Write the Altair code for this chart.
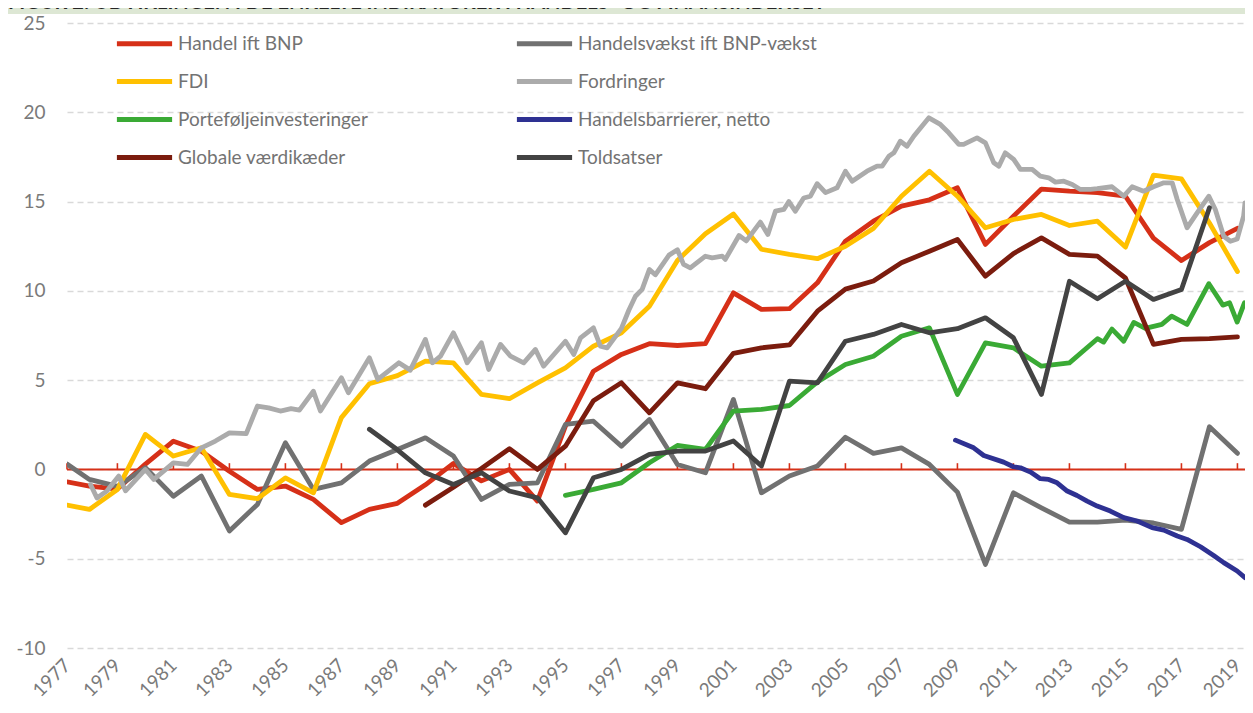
import altair as alt
import pandas as pd

# ---------------- data ----------------
series_names = ["Handel ift BNP", "Handelsvækst ift BNP-vækst", "FDI", "Fordringer",
                "Porteføljeinvesteringer", "Handelsbarrierer, netto", "Globale værdikæder", "Toldsatser"]
series_colors = ["#d63018", "#717171", "#ffc000", "#ababab",
                 "#3aaa35", "#2e3192", "#7b1c0e", "#434343"]

years_annual = list(range(1977, 2020))

handel_bnp = [-0.7, -0.93, -1.1, 0.3, 1.58, 1.02, -0.1, -1.12, -0.93, -1.68,
              -2.98, -2.24, -1.9, -0.86, 0.34, -0.64, 0.0, -1.77, 2.43, 5.5,
              6.44, 7.04, 6.94, 7.04, 9.89, 8.96, 9.0, 10.45, 12.78, 13.9,
              14.74, 15.1, 15.77, 12.6, 14.18, 15.7, 15.58, 15.5, 15.3, 12.95,
              11.7, 12.7, 13.5]

handelsvaekst = [0.3, -0.56, -0.95, 0.1, -1.5, -0.37, -3.45, -1.96, 1.5, -1.12,
                 -0.75, 0.47, 1.12, 1.77, 0.75, -1.68, -0.84, -0.75, 2.52, 2.7,
                 1.3, 2.8, 0.28, -0.19, 3.92, -1.31, -0.37, 0.19, 1.8, 0.9,
                 1.21, 0.28, -1.27, -5.32, -1.31, -2.15, -2.95, -2.95, -2.84, -3.0,
                 -3.36, 2.39, 0.9]

fdi = [-2.0, -2.24, -1.12, 1.96, 0.75, 1.21, -1.4, -1.64, -0.47, -1.31,
       2.9, 4.8, 5.25, 6.06, 5.97, 4.2, 3.96, 4.85, 5.69, 6.9,
       7.65, 9.14, 11.7, 13.2, 14.3, 12.33, 12.04, 11.8, 12.5, 13.5,
       15.3, 16.7, 15.3, 13.53, 14.0, 14.28, 13.66, 13.9, 12.45, 16.48,
       16.27, 13.8, 11.08]

fordringer_years = [1978.04, 1978.27, 1978.63, 1979.05, 1979.29, 1980.0, 1980.3, 1981.0, 1981.5, 1982.0,
                    1982.5, 1983.0, 1983.6, 1984.0, 1984.4, 1984.82, 1985.2, 1985.5, 1986.0, 1986.25,
                    1987.0, 1987.25, 1988.0, 1988.3, 1989.05, 1989.46, 1990.0, 1990.25, 1990.54, 1991.0,
                    1991.37, 1991.49, 1992.0, 1992.26, 1992.68, 1993.04, 1993.51, 1993.93, 1994.22, 1995.0,
                    1995.3, 1995.54, 1996.0, 1996.25, 1996.49, 1997.0, 1997.26, 1997.5, 1997.74, 1998.0,
                    1998.21, 1998.7, 1999.0, 1999.22, 1999.46, 2000.0, 2000.24, 2000.6, 2000.71, 2001.2,
                    2001.46, 2001.96, 2002.23, 2002.5, 2002.8, 2002.98, 2003.21, 2003.51, 2003.75, 2003.99,
                    2004.29, 2004.7, 2005.0, 2005.24, 2005.77, 2006.13, 2006.31, 2006.55, 2006.73, 2006.96,
                    2007.2, 2007.44, 2007.98, 2008.39, 2008.69, 2009.05, 2009.22, 2009.7, 2010.0, 2010.3,
                    2010.48, 2010.71, 2011.01, 2011.25, 2011.67, 2011.96, 2012.26, 2012.5, 2012.8, 2013.1,
                    2013.39, 2013.75, 2013.99, 2014.52, 2014.94, 2015.24, 2015.65, 2016.0, 2016.37, 2016.67,
                    2016.85, 2017.2, 2017.56, 2017.98, 2018.21, 2018.51, 2018.75, 2018.99, 2019.22, 2019.52]
fordringer = [-0.84, -1.6, -1.2, -0.37, -1.2, 0.0, -0.56, 0.37, 0.28, 1.21,
              1.59, 2.05, 2.0, 3.55, 3.45, 3.27, 3.4, 3.32, 4.38, 3.27,
              5.13, 4.29, 6.25, 5.04, 5.97, 5.56, 7.28, 5.97, 6.34, 7.65,
              6.44, 5.97, 7.09, 5.6, 7.0, 6.34, 5.97, 6.72, 5.78, 7.18,
              6.44, 7.37, 7.93, 6.9, 6.81, 7.9, 8.9, 9.7, 10.08, 11.2,
              10.9, 12.0, 12.3, 11.48, 11.29, 11.94, 11.85, 11.94, 11.76, 13.1,
              12.8, 13.85, 13.16, 14.46, 14.56, 15.0, 14.46, 15.2, 15.3, 16.0,
              15.5, 15.77, 16.7, 16.14, 16.7, 16.98, 16.98, 17.54, 17.73, 18.38,
              18.1, 18.66, 19.69, 19.32, 18.85, 18.2, 18.2, 18.57, 18.29, 17.17,
              16.98, 17.73, 17.36, 16.8, 16.8, 16.42, 16.33, 16.09, 16.14, 15.96,
              15.68, 15.68, 15.72, 15.83, 15.3, 15.83, 15.58, 15.83, 16.05, 16.05,
              15.12, 13.53, 14.37, 15.3, 14.56, 13.06, 12.78, 12.9, 14.18, 14.93]

portefolje_years = [1995, 1996, 1997, 1998, 1999, 2000, 2001, 2002, 2003, 2004,
                    2005, 2006, 2007, 2008, 2009, 2010, 2011, 2012, 2013, 2014.0,
                    2014.22, 2014.52, 2014.94, 2015.3, 2015.71, 2016.3, 2016.65, 2017.2, 2017.98, 2018.48,
                    2018.72, 2018.99, 2019.25]
portefolje = [-1.45, -1.12, -0.75, 0.37, 1.34, 1.12, 3.27, 3.36, 3.58, 4.9,
              5.88, 6.34, 7.46, 7.93, 4.2, 7.09, 6.81, 5.78, 5.97, 7.32,
              7.13, 7.86, 7.18, 8.23, 7.9, 8.12, 8.58, 8.12, 10.4, 9.2,
              9.33, 8.25, 9.33]

barrierer_years = [2008.93, 2009.58, 2009.94, 2010.65, 2011.0, 2011.25, 2011.61, 2011.96, 2012.26, 2012.56,
                   2012.92, 2013.27, 2013.63, 2013.99, 2014.46, 2014.94, 2015.42, 2015.95, 2016.37, 2016.85,
                   2017.2, 2017.68, 2018.15, 2018.51, 2018.99, 2019.52]
barrierer = [1.64, 1.21, 0.78, 0.41, 0.15, 0.09, -0.15, -0.52, -0.56, -0.75,
             -1.21, -1.46, -1.77, -2.05, -2.33, -2.7, -2.89, -3.26, -3.4, -3.73,
             -3.92, -4.33, -4.82, -5.22, -5.69, -6.06]

vaerdikaeder_years = list(range(1990, 2020))
vaerdikaeder = [-2.0, -1.0, 0.05, 1.16, 0.0, 1.3, 3.85, 4.85, 3.17, 4.85,
                4.52, 6.5, 6.81, 6.97, 8.86, 10.1, 10.55, 11.57, 12.22, 12.88,
                10.82, 12.09, 12.97, 12.04, 11.94, 10.72, 7.0, 7.28, 7.33, 7.42]

told_years = list(range(1988, 2019))
toldsatser = [2.25, 1.1, -0.19, -0.84, -0.19, -1.21, -1.59, -3.55, -0.47, 0.0,
              0.84, 1.03, 1.03, 1.59, 0.19, 4.94, 4.85, 7.18, 7.56, 8.12,
              7.65, 7.88, 8.49, 7.37, 4.2, 10.54, 9.56, 10.54, 9.52, 10.08,
              14.65]

tick_years = list(range(1977, 2020, 2))
y_ticks = [-10, -5, 0, 5, 10, 15, 20, 25]
title_text = "FIGUR 2: UDVIKLINGEN I DE ENKELTE INDIKATORER I HANDELS- OG FINANSINDEKSET"

# ---------------- long table ----------------
series_data = [
    (series_names[0], years_annual, handel_bnp),
    (series_names[1], years_annual, handelsvaekst),
    (series_names[2], years_annual, fdi),
    (series_names[3], fordringer_years, fordringer),
    (series_names[4], portefolje_years, portefolje),
    (series_names[5], barrierer_years, barrierer),
    (series_names[6], vaerdikaeder_years, vaerdikaeder),
    (series_names[7], told_years, toldsatser),
]
rows = []
for name, xs, vs in series_data:
    for x, v in zip(xs, vs):
        rows.append({"serie": name, "aar": x, "vaerdi": v})
df = pd.DataFrame(rows)

# legend is filled column by column: reorder so rows read like the reference
legend_order = [0, 2, 4, 6, 1, 3, 5, 7]
legend_domain = [series_names[i] for i in legend_order]
legend_range = [series_colors[i] for i in legend_order]

W, H = 1178, 625
FONT = "Lato"
AXIS_GRAY = "#7a7a7a"
RED = "#d63018"

x_scale = alt.Scale(domain=[1977.2, 2019.27], nice=False, zero=False, clamp=True)
y_scale = alt.Scale(domain=[-10, 25], nice=False, zero=False)

x_axis = alt.Axis(values=tick_years, format="d", labelAngle=-45, labelAlign="right",
                  labelBaseline="middle", labelFont=FONT, labelFontSize=19,
                  labelColor=AXIS_GRAY, labelPadding=14, domain=False, ticks=False,
                  tickSize=0, grid=False, title=None, labelOverlap=False,
                  labelFlush=False, labelBound=False)
y_axis = alt.Axis(values=y_ticks, labelExpr="'' + datum.value", labelFont=FONT,
                  labelFontSize=19, labelColor=AXIS_GRAY,
                  labelPadding=22, domain=False, ticks=False, tickSize=0, grid=True,
                  gridColor="#d9d9d9", gridDash=[6, 4], gridWidth=1.5, title=None)

legend = alt.Legend(title=None, orient="none", legendX=63, legendY=6, columns=2,
                    gridAlign="each",
                    symbolType="M-2.3,0H2.3", symbolSize=576, symbolStrokeWidth=5,
                    labelFont=FONT, labelFontSize=19, labelColor="#737373",
                    labelOffset=19, rowPadding=13, columnPadding=138, padding=0,
                    labelLimit=600)

band = alt.Chart(pd.DataFrame({"t": [title_text]})).mark_rect(color="#dde7d4").encode(
    x=alt.value(-59), x2=alt.value(W), y=alt.value(-15), y2=alt.value(-9))
title = alt.Chart(pd.DataFrame({"t": [title_text]})).mark_text(
    align="left", baseline="alphabetic", font=FONT, fontSize=20, fontWeight="bold",
    color="#262626").encode(x=alt.value(-59), y=alt.value(-14), text="t:N")

zero_line = alt.Chart(pd.DataFrame({"v": [0]})).mark_rule(color=RED, strokeWidth=2).encode(
    y=alt.Y("v:Q", scale=y_scale))

ticks = alt.Chart(pd.DataFrame({"aar": tick_years})).mark_rule(color=RED, strokeWidth=1.6).encode(
    x=alt.X("aar:Q", scale=x_scale),
    y=alt.datum(0),
    y2=alt.datum(0.35))

lines = alt.Chart(df).mark_line(strokeWidth=4.8, strokeCap="round", strokeJoin="round",
                                clip=True).encode(
    x=alt.X("aar:Q", scale=x_scale, axis=x_axis),
    y=alt.Y("vaerdi:Q", scale=y_scale, axis=y_axis),
    color=alt.Color("serie:N", scale=alt.Scale(domain=legend_domain, range=legend_range),
                    legend=legend),
)

chart = alt.layer(band, title, zero_line, ticks, lines).properties(
    width=W, height=H,
    padding={"left": 59, "top": 15, "right": 0, "bottom": 57},
    autosize=alt.AutoSizeParams(type="none"),
    background="white",
).configure_view(stroke=None)

chart.save("out.html", embed_options={"renderer": "svg", "actions": False})
